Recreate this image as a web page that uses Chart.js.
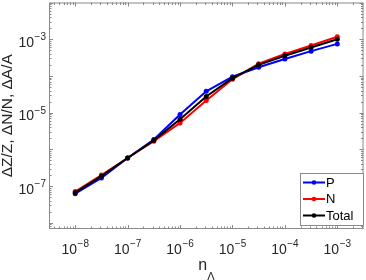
<!DOCTYPE html>
<html>
<head>
<meta charset="utf-8">
<script src="https://cdn.jsdelivr.net/npm/chart.js@4/dist/chart.umd.min.js"></script>
<style>
html,body{margin:0;padding:0;background:#fff;}
#wrap{width:366px;height:280px;position:relative;}
</style>
</head>
<body>
<div id="wrap"><canvas id="c" width="366" height="280"></canvas></div>
<script>
// ---- data ----
const nLambda = [1e-8, 3.16e-8, 1e-7, 3.16e-7, 1e-6, 3.16e-6, 1e-5, 3.16e-5, 1e-4, 3.16e-4, 1e-3];
const seriesP = [6.2e-8, 1.66e-7, 5.8e-7, 1.85e-6, 8.9e-6, 3.8e-5, 9.5e-5, 1.72e-4, 2.88e-4, 4.73e-4, 7.46e-4];
const seriesN = [7.1e-8, 2.0e-7, 5.8e-7, 1.67e-6, 5.25e-6, 2.14e-5, 8.1e-5, 2.16e-4, 3.94e-4, 6.76e-4, 1.17e-3];
const seriesTotal = [6.6e-8, 1.86e-7, 5.8e-7, 1.76e-6, 6.6e-6, 2.75e-5, 8.7e-5, 2.0e-4, 3.55e-4, 5.96e-4, 1.0e-3];
const xTickExps = [-8, -7, -6, -5, -4, -3];
const yTickExps = [-7, -5, -3];
const seriesNames = ['P', 'N', 'Total'];
const seriesColors = ['#0000ff', '#ff0000', '#000000'];
const xTitle = 'n';
const xTitleSub = 'Λ';
const yTitle = 'ΔZ/Z, ΔN/N, ΔA/A';

const FONT = "'Liberation Sans', Arial, Helvetica, sans-serif";

function toXY(ys) { return nLambda.map((x, i) => ({x: x, y: ys[i]})); }

function supLabel(ctx, x, y, exp, align) {
  // draws 10^exp; y is the vertical center of the whole label
  const base = '10', ex = '\u2212' + Math.abs(exp);
  ctx.font = '14px ' + FONT;
  const wb = ctx.measureText(base).width;
  ctx.font = '10px ' + FONT;
  const we = ctx.measureText(ex).width;
  const total = wb + we + 0.5;
  let x0 = align === 'right' ? x - total : x - total / 2;
  ctx.fillStyle = '#262626';
  ctx.textAlign = 'left';
  ctx.textBaseline = 'alphabetic';
  ctx.font = '14px ' + FONT;
  ctx.fillText(base, x0, y + 7.5);
  ctx.font = '10px ' + FONT;
  ctx.fillText(ex, x0 + wb + 0.5, y + 1);
}

const decorPlugin = {
  id: 'decor',
  afterDatasetsDraw(chart) {
    const ctx = chart.ctx;
    const a = chart.chartArea;
    const xs = chart.scales.x, ys = chart.scales.y;
    ctx.save();
    // frame
    ctx.strokeStyle = '#8a8a8a';
    ctx.lineWidth = 1;
    ctx.strokeRect(a.left + 0.5, a.top + 0.5, a.right - a.left - 1, a.bottom - a.top - 1);
    // ticks
    ctx.beginPath();
    for (let d = -10; d <= -1; d++) {
      for (let k = 1; k <= 9; k++) {
        const v = k * Math.pow(10, d);
        const len = (k === 1) ? 4 : 2.5;
        if (v >= xs.min && v <= xs.max) {
          const px = Math.round(xs.getPixelForValue(v)) + 0.5;
          ctx.moveTo(px, a.bottom); ctx.lineTo(px, a.bottom - len);
          ctx.moveTo(px, a.top); ctx.lineTo(px, a.top + len);
        }
        if (v >= ys.min && v <= ys.max) {
          const py = Math.round(ys.getPixelForValue(v)) + 0.5;
          ctx.moveTo(a.left, py); ctx.lineTo(a.left + len, py);
          ctx.moveTo(a.right, py); ctx.lineTo(a.right - len, py);
        }
      }
    }
    ctx.stroke();
    // tick labels
    xTickExps.forEach(e => {
      supLabel(ctx, xs.getPixelForValue(Math.pow(10, e)), a.bottom + 17, e, 'center');
    });
    yTickExps.forEach(e => {
      supLabel(ctx, a.left - 3, ys.getPixelForValue(Math.pow(10, e)), e, 'right');
    });
    // axis titles
    ctx.fillStyle = '#262626';
    ctx.font = '16px ' + FONT;
    ctx.textBaseline = 'alphabetic';
    const cx = (a.left + a.right) / 2;
    const wn = ctx.measureText(xTitle).width;
    ctx.textAlign = 'left';
    ctx.fillText(xTitle, cx - 8, 270);
    ctx.font = '11px ' + FONT;
    ctx.fillText(xTitleSub, cx - 8 + wn, 280);
    ctx.save();
    ctx.translate(12, (a.top + a.bottom) / 2);
    ctx.rotate(-Math.PI / 2);
    ctx.font = '15.5px ' + FONT;
    ctx.textAlign = 'center';
    ctx.textBaseline = 'alphabetic';
    ctx.fillText(yTitle, 0, 0);
    ctx.restore();
    // legend
    const lx = 300.5, ly = 173.5, lw = 63, lh = 52;
    ctx.fillStyle = '#ffffff';
    ctx.fillRect(lx, ly, lw, lh);
    ctx.strokeStyle = '#8a8a8a';
    ctx.lineWidth = 1;
    ctx.strokeRect(lx, ly, lw, lh);
    const rows = [182.5, 199, 215.5];
    seriesNames.forEach((name, i) => {
      const y = rows[i];
      ctx.strokeStyle = seriesColors[i];
      ctx.lineWidth = 2;
      ctx.beginPath(); ctx.moveTo(303, y); ctx.lineTo(325, y); ctx.stroke();
      ctx.fillStyle = seriesColors[i];
      ctx.beginPath(); ctx.arc(314, y, 2.3, 0, Math.PI * 2); ctx.fill();
      ctx.fillStyle = '#000';
      ctx.font = '13px ' + FONT;
      ctx.textAlign = 'left';
      ctx.textBaseline = 'middle';
      ctx.fillText(name, 326, y + 0.5);
    });
    ctx.restore();
  }
};

const mkDs = (i, ys, order) => ({
  label: seriesNames[i],
  data: toXY(ys),
  borderColor: seriesColors[i],
  backgroundColor: seriesColors[i],
  borderWidth: 2,
  pointRadius: 2.5,
  pointBorderWidth: 0,
  pointHoverRadius: 2.5,
  tension: 0,
  fill: false,
  order: order
});

new Chart(document.getElementById('c'), {
  type: 'line',
  data: {
    datasets: [mkDs(0, seriesP, 2), mkDs(1, seriesN, 1), mkDs(2, seriesTotal, 0)]
  },
  options: {
    responsive: false,
    animation: false,
    events: [],
    layout: { padding: { left: 0, right: 1, top: 0, bottom: 0 } },
    plugins: { legend: { display: false }, tooltip: { enabled: false } },
    scales: {
      x: {
        type: 'logarithmic',
        min: Math.pow(10, -8.5),
        max: Math.pow(10, -2.5),
        grid: { display: false },
        border: { display: false },
        ticks: { display: false },
        afterFit(s) { s.height = 51; }
      },
      y: {
        type: 'logarithmic',
        min: Math.pow(10, -8.17),
        max: Math.pow(10, -2),
        grid: { display: false },
        border: { display: false },
        ticks: { display: false },
        afterFit(s) { s.width = 49; }
      }
    }
  },
  plugins: [decorPlugin]
});
</script>
</body>
</html>
